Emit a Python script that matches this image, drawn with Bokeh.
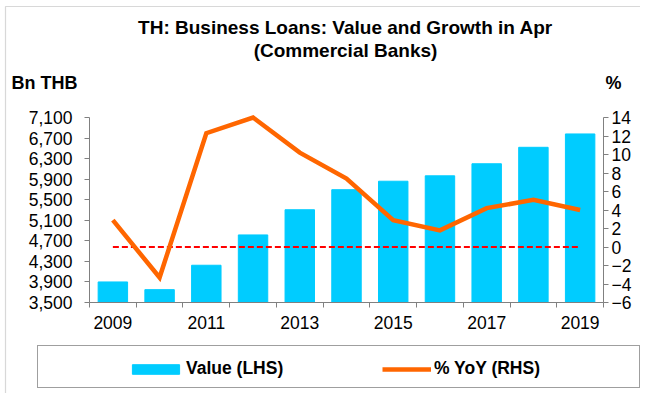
from bokeh.plotting import figure
from bokeh.models import (Range1d, LinearAxis, FixedTicker, NumeralTickFormatter,
                          Legend, LegendItem, Label, ColumnDataSource, BoxAnnotation)
from bokeh.embed import file_html
from bokeh.resources import INLINE

# ---- data ----
years = [2009, 2010, 2011, 2012, 2013, 2014, 2015, 2016, 2017, 2018, 2019]
value_lhs = [3900, 3750, 4225, 4815, 5305, 5695, 5860, 5965, 6200, 6520, 6780]
yoy_rhs = [2.9, -3.3, 12.3, 14.0, 10.2, 7.4, 2.9, 1.8, 4.2, 5.1, 4.0]
left_ticks = [3500, 3900, 4300, 4700, 5100, 5500, 5900, 6300, 6700, 7100]
right_ticks = [-6, -4, -2, 0, 2, 4, 6, 8, 10, 12, 14]
x_tick_years = [2009, 2011, 2013, 2015, 2017, 2019]
title_lines = ["TH: Business Loans: Value and Growth in Apr", "(Commercial Banks)"]
left_unit = "Bn THB"
right_unit = "%"
series_names = ["Value (LHS)", "% YoY (RHS)"]

# ---- layout (pixels inside the 640 x 393 canvas, measured from top-left) ----
W, H = 640, 393
PL, PR, PT, PB = 89, 603, 117, 302   # plot-area edges
FONT = "Liberation Sans"
BAR = "#00CCFF"
LINE = "#FF6600"
AX = "#808080"

def padded(lo, hi, px_lo, px_hi, total_lo, total_hi):
    scale = (hi - lo) / (px_hi - px_lo)
    return Range1d(lo - (px_lo - total_lo) * scale, hi + (total_hi - px_hi) * scale)

x_lo, x_hi = years[0] - 0.5, years[-1] + 0.5
xr = padded(x_lo, x_hi, PL, PR, 0, W)
yr = padded(left_ticks[0], left_ticks[-1], H - PB, H - PT, 0, H)
yr_pct = padded(right_ticks[0], right_ticks[-1], H - PB, H - PT, 0, H)

p = figure(width=W, height=H, output_backend="svg", toolbar_location=None,
           x_range=xr, y_range=yr, min_border=0,
           min_border_left=0, min_border_right=0, min_border_top=0, min_border_bottom=0,
           x_axis_location=None, y_axis_location=None)
p.outline_line_color = None
p.grid.visible = False
p.background_fill_color = "white"
p.border_fill_color = "white"
p.extra_y_ranges = {"pct": yr_pct}

# outer chart border (left and top edges visible)
p.add_layout(BoxAnnotation(left=5, right=W + 20, top=H - 6, bottom=-20,
                           left_units="screen", right_units="screen",
                           top_units="screen", bottom_units="screen",
                           fill_alpha=0, line_color="#7f7f7f", line_width=1.2))

def style_axis(ax, size):
    ax.axis_line_color = AX
    ax.major_tick_line_color = AX
    ax.minor_tick_line_color = AX
    ax.major_label_text_font = FONT
    ax.major_label_text_font_size = size
    ax.major_label_text_color = "black"

TICK_FS = "17.5px"

# x axis
xax = LinearAxis(ticker=FixedTicker(ticks=x_tick_years,
                                    minor_ticks=[y - 0.5 for y in years] + [x_hi]),
                 fixed_location=left_ticks[0], bounds=(x_lo, x_hi))
style_axis(xax, TICK_FS)
xax.major_tick_out = 0
xax.major_tick_in = 0
xax.minor_tick_out = 5
xax.minor_tick_in = 0
xax.major_label_standoff = 8
xax.major_label_overrides = {y: str(y) for y in x_tick_years}
p.add_layout(xax, "below")

# left axis
lax = LinearAxis(ticker=FixedTicker(ticks=left_ticks, minor_ticks=[]),
                 formatter=NumeralTickFormatter(format="0,0"),
                 fixed_location=x_lo, bounds=(left_ticks[0], left_ticks[-1]))
style_axis(lax, TICK_FS)
lax.major_tick_out = 5
lax.major_tick_in = 0
lax.minor_tick_line_color = None
lax.major_label_standoff = 12
p.add_layout(lax, "left")

# right axis
rax = LinearAxis(y_range_name="pct", ticker=FixedTicker(ticks=right_ticks, minor_ticks=[]),
                 fixed_location=x_hi, bounds=(right_ticks[0], right_ticks[-1]))
style_axis(rax, TICK_FS)
rax.major_tick_out = 5
rax.major_tick_in = 0
rax.minor_tick_line_color = None
rax.major_label_standoff = 3
p.add_layout(rax, "right")

src = ColumnDataSource(dict(year=years, value=value_lhs, yoy=yoy_rhs))
bars = p.vbar(x="year", top="value", bottom=left_ticks[0], width=0.63, source=src,
              fill_color=BAR, line_color=BAR, line_width=1)
p.line(x=[years[0], years[-1]], y=[0, 0], y_range_name="pct",
       line_color="#FF0000", line_width=2, line_dash="6 3")
ln = p.line(x="year", y="yoy", source=src, y_range_name="pct",
            line_color=LINE, line_width=4.5, line_join="miter")

# titles / unit labels (screen units: from canvas left / bottom)
for txt, yy in zip(title_lines, [H - 27, H - 50]):
    p.add_layout(Label(x=345, y=yy, x_units="screen", y_units="screen", text=txt,
                       text_align="center", text_baseline="middle",
                       text_font=FONT, text_font_style="bold",
                       text_font_size="19px", text_color="black"))
p.add_layout(Label(x=11, y=H - 82, x_units="screen", y_units="screen", text=left_unit,
                   text_align="left", text_baseline="middle", text_font=FONT,
                   text_font_style="bold", text_font_size="18px", text_color="black"))
p.add_layout(Label(x=605, y=H - 82, x_units="screen", y_units="screen", text=right_unit,
                   text_align="left", text_baseline="middle", text_font=FONT,
                   text_font_style="bold", text_font_size="18px", text_color="black"))

# legend box (empty item)
dummy = p.scatter(x=[], y=[], size=0, fill_alpha=0, line_alpha=0)
box = Legend(items=[LegendItem(label=" ", renderers=[dummy])], location=(37, H - 388),
             padding=0, margin=0, spacing=0, glyph_width=20, glyph_height=41,
             label_width=581, label_standoff=0, label_text_alpha=0,
             border_line_color="#404040", border_line_width=1,
             background_fill_color="white", background_fill_alpha=1)
p.add_layout(box, "center")

leg_common = dict(padding=0, margin=0, spacing=0, label_text_font=FONT,
                  label_text_font_style="bold", label_text_font_size="17.5px",
                  label_text_color="black", border_line_alpha=0,
                  background_fill_alpha=0, label_height=12)
leg1 = Legend(items=[LegendItem(label=series_names[0], renderers=[bars])],
              location=(126, H - 379), glyph_width=59, glyph_height=12, label_standoff=1,
              **leg_common)
leg2 = Legend(items=[LegendItem(label=series_names[1], renderers=[ln])],
              location=(382, H - 379), glyph_width=49, glyph_height=12, label_standoff=3,
              **leg_common)
p.add_layout(leg1, "center")
p.add_layout(leg2, "center")

open("out.html", "w").write(file_html(p, INLINE))
